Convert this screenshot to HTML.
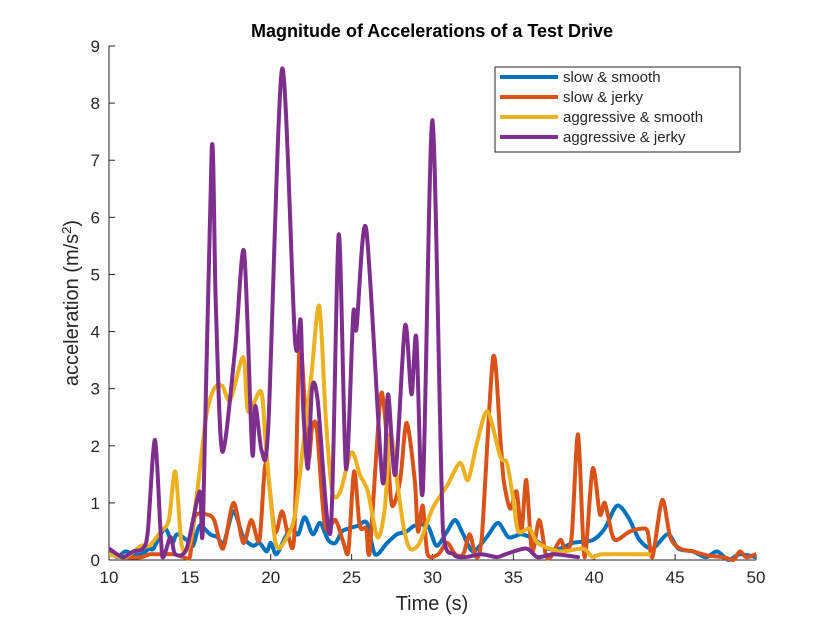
<!DOCTYPE html>
<html><head><meta charset="utf-8"><style>
body{margin:0;background:#fff;}
svg{display:block;font-family:"Liberation Sans",sans-serif;}
</style></head><body>
<svg id="chart" width="840" height="630" xmlns="http://www.w3.org/2000/svg">
<rect width="840" height="630" fill="#fff"/>
<text x="432" y="37" text-anchor="middle" font-size="18" font-weight="bold">Magnitude of Accelerations of a Test Drive</text>
<defs><clipPath id="pc"><rect x="109" y="40" width="647" height="522"/></clipPath></defs>
<g id="grid-axes"></g>
<g id="series" clip-path="url(#pc)"></g>
<text x="432" y="610" text-anchor="middle" font-size="20" fill="#262626">Time (s)</text>
<text transform="translate(78,303) rotate(-90)" text-anchor="middle" font-size="20" fill="#262626">acceleration (m/s<tspan dy="-7" font-size="13">2</tspan><tspan dy="7">)</tspan></text>
<g id="legend">
<rect x="495" y="67" width="245" height="85" fill="#fff" stroke="#262626" stroke-width="1"/>
</g>
</svg>
<script>
const xTicks=[10,15,20,25,30,35,40,45,50];
const yTicks=[0,1,2,3,4,5,6,7,8,9];
const seriesNames=["slow & smooth","slow & jerky","aggressive & smooth","aggressive & jerky"];
const seriesColors=["#0072BD","#D95319","#EDB120","#7E2F8E"];
const blueT=[10,10.5,11,11.5,12,12.5,12.75,13.45,13.9,14.2,14.8,15.2,15.6,16.25,16.7,17.1,17.7,18.3,18.9,19.3,19.75,20,20.35,20.9,21.3,21.7,22.1,22.6,23.05,23.55,24,24.4,24.8,25.4,25.95,26.45,27.2,27.8,28.4,28.9,29.7,30.25,30.9,31.4,31.9,32.5,33.35,34.05,34.7,35.5,36.35,37.1,37.9,38.7,39.9,40.65,41.4,42.1,42.8,43.6,44.55,45.2,46.1,46.9,47.6,48.3,49,50];
const blueV=[0.15,0.05,0.15,0.1,0.1,0.2,0.2,0.55,0.3,0.45,0.35,0.25,0.6,0.45,0.4,0.3,0.85,0.4,0.25,0.3,0.15,0.3,0.1,0.4,0.55,0.45,0.75,0.45,0.65,0.35,0.3,0.5,0.55,0.6,0.65,0.1,0.3,0.45,0.5,0.6,0.6,0.25,0.5,0.7,0.45,0.15,0.4,0.65,0.4,0.45,0.35,0.2,0.2,0.3,0.35,0.55,0.95,0.75,0.35,0.2,0.45,0.2,0.15,0.05,0.15,0.0,0.1,0.05];
const orangeT=[10,11,12,12.5,13,14,14.6,15.0,15.3,16,16.5,17.05,17.7,18.3,18.8,19.3,19.7,20.25,20.7,21.1,21.45,21.8,22.3,22.55,22.85,23.35,24,24.5,24.8,25.15,25.5,25.9,26.1,26.75,27.0,27.25,27.5,28,28.4,28.9,29.1,29.4,29.7,30.35,30.9,31.4,31.9,32.3,32.7,33.05,33.75,34.2,34.4,34.8,35.2,35.5,35.8,36.15,36.6,37,37.3,37.9,38.2,38.6,39.0,39.4,39.9,40.35,40.65,41.1,41.4,42.2,42.95,43.3,43.6,44.2,44.7,45.3,46.1,47,47.95,48.6,49,49.4,50];
const orangeV=[0.1,0.05,0.05,0.1,0.1,0.1,0.05,0.05,0.75,0.8,0.7,0.2,1.0,0.3,0.7,0.35,1.7,0.5,0.85,0.4,0.4,3.8,1.8,2.3,2.3,0.6,0.7,0.3,0.15,1.55,0.6,0.55,0.1,2.75,2.7,1.8,0.95,1.4,2.4,1.4,0.5,0.95,0.1,0.1,0.3,0.1,0.1,0.45,0.05,0.4,3.55,2.1,1.4,0.9,1.2,0.5,1.4,0.15,0.7,0.1,0.05,0.35,0.2,0.4,2.2,0.05,1.6,0.8,1.0,0.45,0.35,0.5,0.55,0.5,0.05,1.05,0.4,0.2,0.15,0.08,0.05,0.0,0.15,0.05,0.1];
const yellowT=[10,11,12,12.5,13.2,13.7,14.1,14.5,15,15.5,16,16.5,17,17.5,18.3,18.6,19.4,19.7,20.3,21,21.5,22,22.5,23.0,23.4,23.8,24.3,24.9,25.2,25.5,26,26.6,27.05,27.4,27.8,28.2,28.6,29.2,30,30.9,31.7,32.2,32.75,33.4,34.2,34.6,35,35.3,36,36.5,37.9,39.3,39.9,40.5,43.4];
const yellowV=[0.1,0.05,0.25,0.25,0.5,0.7,1.55,0.25,0.3,1.3,2.5,3.0,3.05,2.8,3.55,2.6,2.95,2.0,0.3,0.4,0.8,2.0,3.2,4.45,2.5,1.2,1.2,1.85,1.8,1.5,1.2,0.4,0.9,2.2,1.4,0.6,0.2,0.3,0.9,1.3,1.7,1.4,2.05,2.6,1.8,1.7,1.05,0.5,0.55,0.3,0.15,0.2,0.05,0.1,0.1];
const purpleT=[10,10.5,10.9,11.5,12.1,12.4,12.85,13.3,13.8,14.1,14.8,15.6,15.8,16.35,16.6,17.0,17.8,18.35,18.85,19.05,19.45,19.85,20.7,21.5,21.85,22.0,22.3,22.55,22.9,23.7,24.2,24.65,25.1,25.3,25.9,26.9,27.25,27.7,28.3,28.7,29.0,29.4,30.0,30.65,31.3,32,33,34,34.5,35.8,36.5,37.5,39];
const purpleV=[0.2,0.1,0.05,0.15,0.2,0.5,2.1,0.05,0.4,0.1,0.2,1.2,0.5,7.2,4.5,1.9,3.7,5.4,1.9,2.7,1.9,2.35,8.6,3.85,4.2,2.7,1.6,3.0,2.8,0.5,5.7,1.6,4.3,4.05,5.8,1.4,2.9,1.5,4.1,2.9,3.9,1.2,7.7,0.5,0.1,0.05,0.1,0.05,0.1,0.2,0.05,0.1,0.05];
const L=109,R=756,T=46,B=560;
const xS=t=>L+(t-10)*(R-L)/40;
const yS=v=>B-v*(B-T)/9;
const NS="http://www.w3.org/2000/svg";
function mk(tag,attrs,parent){const e=document.createElementNS(NS,tag);for(const k in attrs)e.setAttribute(k,attrs[k]);parent.appendChild(e);return e;}
const ax=document.getElementById('grid-axes');
const xa=mk('line',{x1:L,y1:B,x2:R,y2:B,stroke:'#262626','stroke-width':1},ax);


const ya=mk('line',{x1:L,y1:T,x2:L,y2:B,stroke:'#262626','stroke-width':1},ax);


xTicks.forEach(t=>{const x=xS(t);
 mk('line',{x1:x,y1:B,x2:x,y2:B-6,stroke:'#262626'},ax);
 const tx=mk('text',{x:x,y:B+23,'text-anchor':'middle','font-size':17,fill:'#262626'},ax);tx.textContent=t;
 
 });
yTicks.forEach(v=>{const y=yS(v);
 mk('line',{x1:L,y1:y,x2:L+6,y2:y,stroke:'#262626'},ax);
 const tx=mk('text',{x:L-9,y:y+6,'text-anchor':'end','font-size':17,fill:'#262626'},ax);tx.textContent=v;
 
 });
function smooth(ts,vs){const p=ts.map((t,i)=>[xS(t),yS(vs[i])]);let d=`M${p[0][0]},${p[0][1]}`;
 const k=7;
 for(let i=0;i<p.length-1;i++){const p0=p[i-1]||p[i],p1=p[i],p2=p[i+1],p3=p[i+2]||p2;
  d+=` C${p1[0]+(p2[0]-p0[0])/k},${Math.min(B,p1[1]+(p2[1]-p0[1])/k)} ${p2[0]-(p3[0]-p1[0])/k},${Math.min(B,p2[1]-(p3[1]-p1[1])/k)} ${p2[0]},${p2[1]}`;}
 return d;}
const sg=document.getElementById('series');
const data=[[blueT,blueV],[orangeT,orangeV],[yellowT,yellowV],[purpleT,purpleV]];
const snames=['series-slow-smooth','series-slow-jerky','series-aggressive-smooth','series-aggressive-jerky'];
data.forEach((s,i)=>{const p=mk('path',{d:smooth(s[0],s[1]),fill:'none',stroke:seriesColors[i],'stroke-width':4,'stroke-linejoin':'round','stroke-linecap':'round'},sg);
 
 });
const lg=document.getElementById('legend');
seriesNames.forEach((n,i)=>{const y=77+i*20;
 const g=mk('g',{},lg);
 
 
 mk('line',{x1:500,y1:y,x2:558,y2:y,stroke:seriesColors[i],'stroke-width':4},g);
 const t=mk('text',{x:563,y:y+5,'font-size':15,fill:'#262626'},g);t.textContent=n;});
</script>
</body></html>
